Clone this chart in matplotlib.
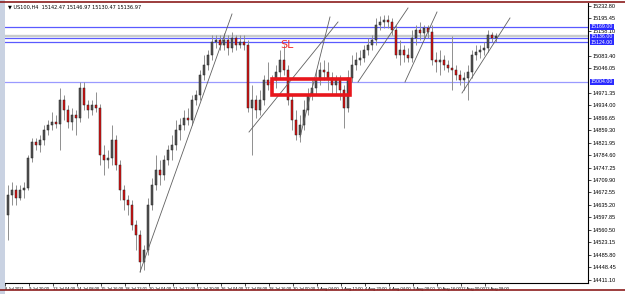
import matplotlib
matplotlib.use("Agg")
import matplotlib.pyplot as plt
from matplotlib.patches import Rectangle
from matplotlib.lines import Line2D
import numpy as np

W, H = 625, 294
FONT = ["Liberation Sans Narrow", "Liberation Sans", "DejaVu Sans"]
plt.rcParams["font.family"] = FONT

# ---------------- data (price values) ----------------
opens = [14605,14665,14680,14656,14680,14686,14776,14824,14815,14830,
         14860,14875,14884,14878,14950,14920,14884,14905,14896,14986,
         14935,14920,14935,14926,14785,14770,14776,14830,14755,14680,
         14650,14635,14575,14545,14464,14500,14635,14695,14740,14725,
         14770,14800,14815,14860,14875,14896,14890,14950,14965,15025,
         15055,15085,15124,15130,15115,15130,15106,15136,15115,15124,
         15115,14926,14950,14920,14950,15010,14995,15010,15034,15070,
         15040,14950,14890,14845,14875,14920,14965,14986,15010,15040,
         15034,15016,14995,15010,14980,14926,15016,15055,15070,15076,
         15100,15115,15130,15175,15184,15190,15184,15160,15085,15100,
         15085,15076,15136,15160,15151,15166,15154,15070,15064,15070,
         15055,15046,15040,15025,15010,15016,15034,15085,15094,15100,
         15106,15145,15136]
highs = [14695,14704,14695,14695,14704,14785,14836,14836,14845,14875,
         14890,14914,14905,14986,14965,14935,14926,14920,15004,15004,
         14950,14950,14974,14938,14815,14800,14875,14845,14770,14695,
         14665,14650,14590,14560,14515,14656,14716,14785,14770,14785,
         14815,14845,14890,14896,14920,14926,14965,14980,15040,15085,
         15100,15145,15145,15145,15151,15145,15154,15145,15145,15145,
         15130,14995,14965,14980,15025,15064,15025,15055,15100,15115,
         15055,14965,14920,14905,14950,14986,15010,15040,15064,15070,
         15064,15034,15025,15025,14995,15040,15085,15094,15100,15115,
         15136,15145,15196,15202,15205,15205,15196,15175,15130,15115,
         15106,15160,15175,15184,15175,15175,15175,15094,15100,15085,
         15070,15142,15055,15040,15034,15055,15100,15115,15115,15124,
         15160,15154,15151]
lows = [14530,14635,14635,14650,14656,14680,14764,14800,14794,14815,
        14845,14860,14866,14800,14890,14866,14860,14845,14884,14920,
        14896,14905,14914,14755,14725,14746,14755,14740,14650,14620,
        14605,14560,14500,14434,14440,14485,14620,14680,14695,14710,
        14755,14770,14800,14830,14860,14875,14875,14935,14950,15010,
        15040,15070,15106,15100,15100,15085,15094,15100,15106,15100,
        14914,14785,14896,14905,14935,14980,14980,14986,15016,15025,
        14935,14860,14830,14824,14860,14905,14950,14965,14995,15010,
        14980,14965,14965,14950,14866,14914,15004,15040,15055,15064,
        15085,15100,15115,15160,15166,15166,15145,15076,15055,15064,
        15064,15064,15115,15130,15136,15136,15055,15034,15025,15040,
        15034,14980,15010,14995,14980,14950,15016,15070,15076,15085,
        15094,15124,15124]
closes = [14665,14680,14656,14680,14686,14776,14824,14815,14830,14860,
          14875,14884,14878,14950,14920,14884,14905,14896,14986,14935,
          14920,14935,14926,14785,14770,14776,14830,14755,14680,14650,
          14635,14575,14545,14464,14500,14635,14695,14740,14725,14770,
          14800,14815,14860,14875,14896,14890,14950,14965,15025,15055,
          15085,15124,15130,15115,15130,15106,15136,15115,15124,15115,
          14926,14950,14920,14950,15010,14995,15010,15034,15070,15040,
          14950,14890,14845,14875,14920,14965,14986,15010,15040,15034,
          15016,14995,15010,14980,14926,15016,15055,15070,15076,15100,
          15115,15130,15175,15184,15190,15184,15160,15085,15100,15085,
          15076,15136,15160,15151,15166,15154,15070,15064,15070,15055,
          15046,15040,15025,15010,15016,15034,15085,15094,15100,15106,
          15145,15136,15142]

x_labels = ["8 Jul 2021", "9 Jul 20:00", "13 Jul 04:00", "14 Jul 08:00", "15 Jul 16:00",
            "18 Jul 23:01", "20 Jul 04:00", "21 Jul 12:00", "22 Jul 20:00", "26 Jul 04:00",
            "27 Jul 08:00", "28 Jul 16:00", "30 Jul 00:00", "2 Aug 04:00", "3 Aug 12:00",
            "4 Aug 20:00", "6 Aug 04:00", "9 Aug 08:00", "10 Aug 16:00", "12 Aug 00:00",
            "13 Aug 08:00"]

# scale labels (the ones hidden behind the highlighted level labels are left out)
y_ticks = [15232.80, 15195.45, 15158.10, 15083.40, 15046.05,
           14971.35, 14934.00, 14896.65, 14859.30, 14821.95, 14784.60, 14747.25,
           14709.90, 14672.55, 14635.20, 14597.85, 14560.50, 14523.15, 14485.80,
           14448.45, 14411.10]

# horizontal levels
h_levels = [15169.0, 15136.0, 15124.0, 15004.0]
h_level_colors = ["#5a5aff", "#5a5aff", "#5a5aff", "#9a9aff"]
gray_levels = [15142.0, 15146.0]
label_texts = ["15169.00", "15136.00", "15124.00", "15004.00"]
label_pos = [15169.0, 15140.0, 15123.0, 15004.0]

# trend lines: (x0, y0, x1, y1) in bar index / price
trend_lines = [(33.0, 14434, 56.0, 15208),
               (60.25, 14854, 82.5, 15184),
               (73.0, 14839, 80.5, 15199),
               (87.5, 15004, 100.0, 15226),
               (99.25, 15004, 107.25, 15214),
               (113.5, 14971, 125.5, 15196)]

sl_box = (66.0, 14965, 85.5, 15013)   # x0, y0, x1, y1
sl_text = (68.0, 15100, "SL")

# ---------------- figure ----------------
fig = plt.figure(figsize=(W / 100, H / 100), dpi=100)
fig.patch.set_facecolor("white")

L, R, T, B = 5, 588, 3, 283
ax = fig.add_axes([L / W, 1 - B / H, (R - L) / W, (B - T) / H])
ax.set_facecolor("white")

n = len(opens)
idx = np.arange(n)
ax.set_xlim(-0.75, 145)
ax.set_ylim(14401, 15241)

for p in gray_levels:
    ax.axhline(p, color="#c8cccc", lw=1.0, zorder=1)
for p, c in zip(h_levels, h_level_colors):
    ax.axhline(p, color=c, lw=0.9, zorder=1)

bw = 0.55
for i in idx:
    o, h, l, c = opens[i], highs[i], lows[i], closes[i]
    up = c >= o
    ax.vlines(i, l, h, color="#8f8f8f", lw=0.7, zorder=2)
    lo, hi = min(o, c), max(o, c)
    if hi - lo < 2:
        hi = lo + 2
    face = "#555555" if up else "#e01010"
    ax.add_patch(Rectangle((i - bw / 2, lo), bw, hi - lo, facecolor=face,
                           edgecolor="#222222", lw=0.35, zorder=3))

for x0, y0, x1, y1 in trend_lines:
    ax.plot([x0, x1], [y0, y1], color="#606060", lw=0.6, zorder=4)

x0, y0, x1, y1 = sl_box
ax.add_patch(Rectangle((x0, y0), x1 - x0, y1 - y0, facecolor="none",
                       edgecolor="#e8161c", lw=2.6, zorder=5))
ax.text(sl_text[0], sl_text[1], sl_text[2], color="#f03030", fontsize=8,
        family=["DejaVu Sans"], ha="left", va="bottom", zorder=6)

for s in ["left", "top"]:
    ax.spines[s].set_visible(False)
for s in ["right", "bottom"]:
    ax.spines[s].set_color("#000000")
    ax.spines[s].set_linewidth(0.8)

ax.yaxis.tick_right()
ax.set_yticks(y_ticks)
ax.set_yticklabels([f"{v:.2f}" for v in y_ticks])
ax.tick_params(axis="y", length=2, width=0.5, labelsize=4.0, pad=1.5, colors="#000000")

xt = [-0.75 + 6 * k for k in range(len(x_labels))]
ax.set_xticks(xt)
ax.set_xticklabels(x_labels, ha="left")
ax.tick_params(axis="x", length=2, width=0.5, labelsize=3.0, pad=1.0)

for p, t in zip(label_pos, label_texts):
    ax.text(1.005, p, t, transform=ax.get_yaxis_transform(),
            fontsize=3.8, color="white", va="center", ha="left",
            bbox=dict(boxstyle="square,pad=0.1", fc="#2a2aff", ec="none"), zorder=7,
            clip_on=False)

fig.add_artist(Rectangle((0, 0), 5 / W, 1, transform=fig.transFigure,
                         facecolor="#c9d2e2", edgecolor="none"))
fig.add_artist(Line2D([0, 1], [1 - 1.5 / H] * 2, transform=fig.transFigure,
                      color="#8b1c1c", lw=1.2))
fig.add_artist(Line2D([0, 1], [1 - 290 / H] * 2, transform=fig.transFigure,
                      color="#8b1c1c", lw=1.2))
fig.text(8 / W, 1 - 7 / H, "\u25bc US100,H4  15142.47 15146.97 15130.47 15136.97",
         fontsize=3.6, va="center", ha="left", color="#000000",
         family=["Liberation Sans Narrow", "DejaVu Sans"])

fig.savefig("out.png", dpi=100)
